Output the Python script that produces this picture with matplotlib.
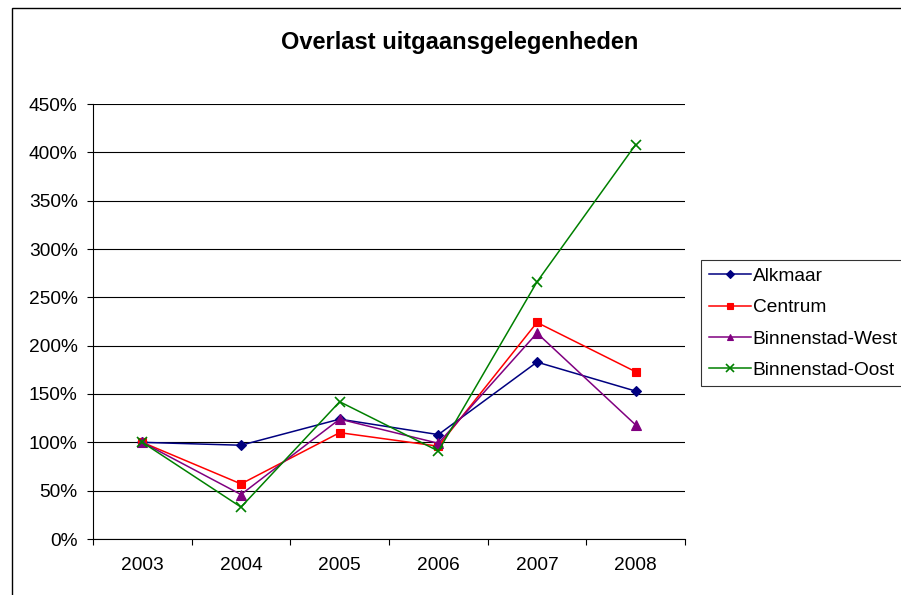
import matplotlib
matplotlib.use("Agg")
import matplotlib.pyplot as plt
from matplotlib.patches import Rectangle
from matplotlib.ticker import FuncFormatter, MultipleLocator, FixedLocator

# Data
years = ["2003", "2004", "2005", "2006", "2007", "2008"]
alkmaar = [1.00, 0.97, 1.24, 1.08, 1.83, 1.53]
centrum = [1.00, 0.57, 1.10, 0.96, 2.24, 1.73]
binnenstad_west = [1.00, 0.46, 1.24, 0.99, 2.13, 1.18]
binnenstad_oost = [1.00, 0.33, 1.42, 0.91, 2.66, 4.08]

series = [
    ("Alkmaar", alkmaar, "#000080", "D", 5.5),
    ("Centrum", centrum, "#FF0000", "s", 5.5),
    ("Binnenstad-West", binnenstad_west, "#800080", "^", 6.5),
    ("Binnenstad-Oost", binnenstad_oost, "#008000", "x", 7),
]

plt.rcParams['font.family'] = ['Liberation Sans', 'DejaVu Sans']

W, H = 901, 595
fig = plt.figure(figsize=(W / 100, H / 100), dpi=100)
fig.patch.set_facecolor("white")

# outer chart border (only top and left visible)
fig.patches.append(Rectangle((12 / W, -0.2), 2.0, (H - 8) / H + 0.2,
                             transform=fig.transFigure, fill=False,
                             edgecolor="black", linewidth=1.0))

ax = fig.add_axes([93 / W, (H - 539) / H, (685 - 93) / W, (539 - 104) / H])

x = list(range(len(years)))
for name, vals, color, marker, ms in series:
    ax.plot(x, vals, color=color, marker=marker, markersize=ms, linewidth=1.1,
            markeredgewidth=1.2 if marker == "x" else 0.8,
            markeredgecolor=color, markerfacecolor=color, label=name, zorder=3)

ax.set_xlim(-0.5, len(years) - 0.5)
ax.set_ylim(0, 4.5)

ax.yaxis.set_major_locator(MultipleLocator(0.5))
ax.yaxis.set_major_formatter(FuncFormatter(lambda v, p: f"{v * 100:.0f}%"))
ax.grid(axis="y", color="black", linewidth=0.8)
ax.set_axisbelow(True)

ax.set_xticks(x)
ax.set_xticklabels(years)
ax.xaxis.set_minor_locator(FixedLocator([i - 0.5 for i in range(len(years) + 1)]))
ax.tick_params(axis="x", which="major", length=0, pad=13, labelsize=13.8)
ax.tick_params(axis="x", which="minor", length=4, width=0.8, direction="out")
ax.tick_params(axis="y", length=4, width=0.8, pad=7, labelsize=13.8)

for s in ["top", "right"]:
    ax.spines[s].set_visible(False)
for s in ["left", "bottom"]:
    ax.spines[s].set_color("black")
    ax.spines[s].set_linewidth(0.8)

fig.text(460 / W, 1 - 43 / H, "Overlast uitgaansgelegenheden", ha="center",
         va="center", fontsize=17, fontweight="bold")

leg = ax.legend(loc="upper left", bbox_to_anchor=(701 / W, 1 - 260 / H),
                bbox_transform=fig.transFigure, fontsize=13.8, frameon=True,
                fancybox=False, edgecolor="black", handlelength=2.2,
                handletextpad=0.1, labelspacing=0.72, borderpad=0.4,
                borderaxespad=0, markerscale=0.75)
leg.get_frame().set_linewidth(0.8)

fig.savefig("out.png", dpi=100)
